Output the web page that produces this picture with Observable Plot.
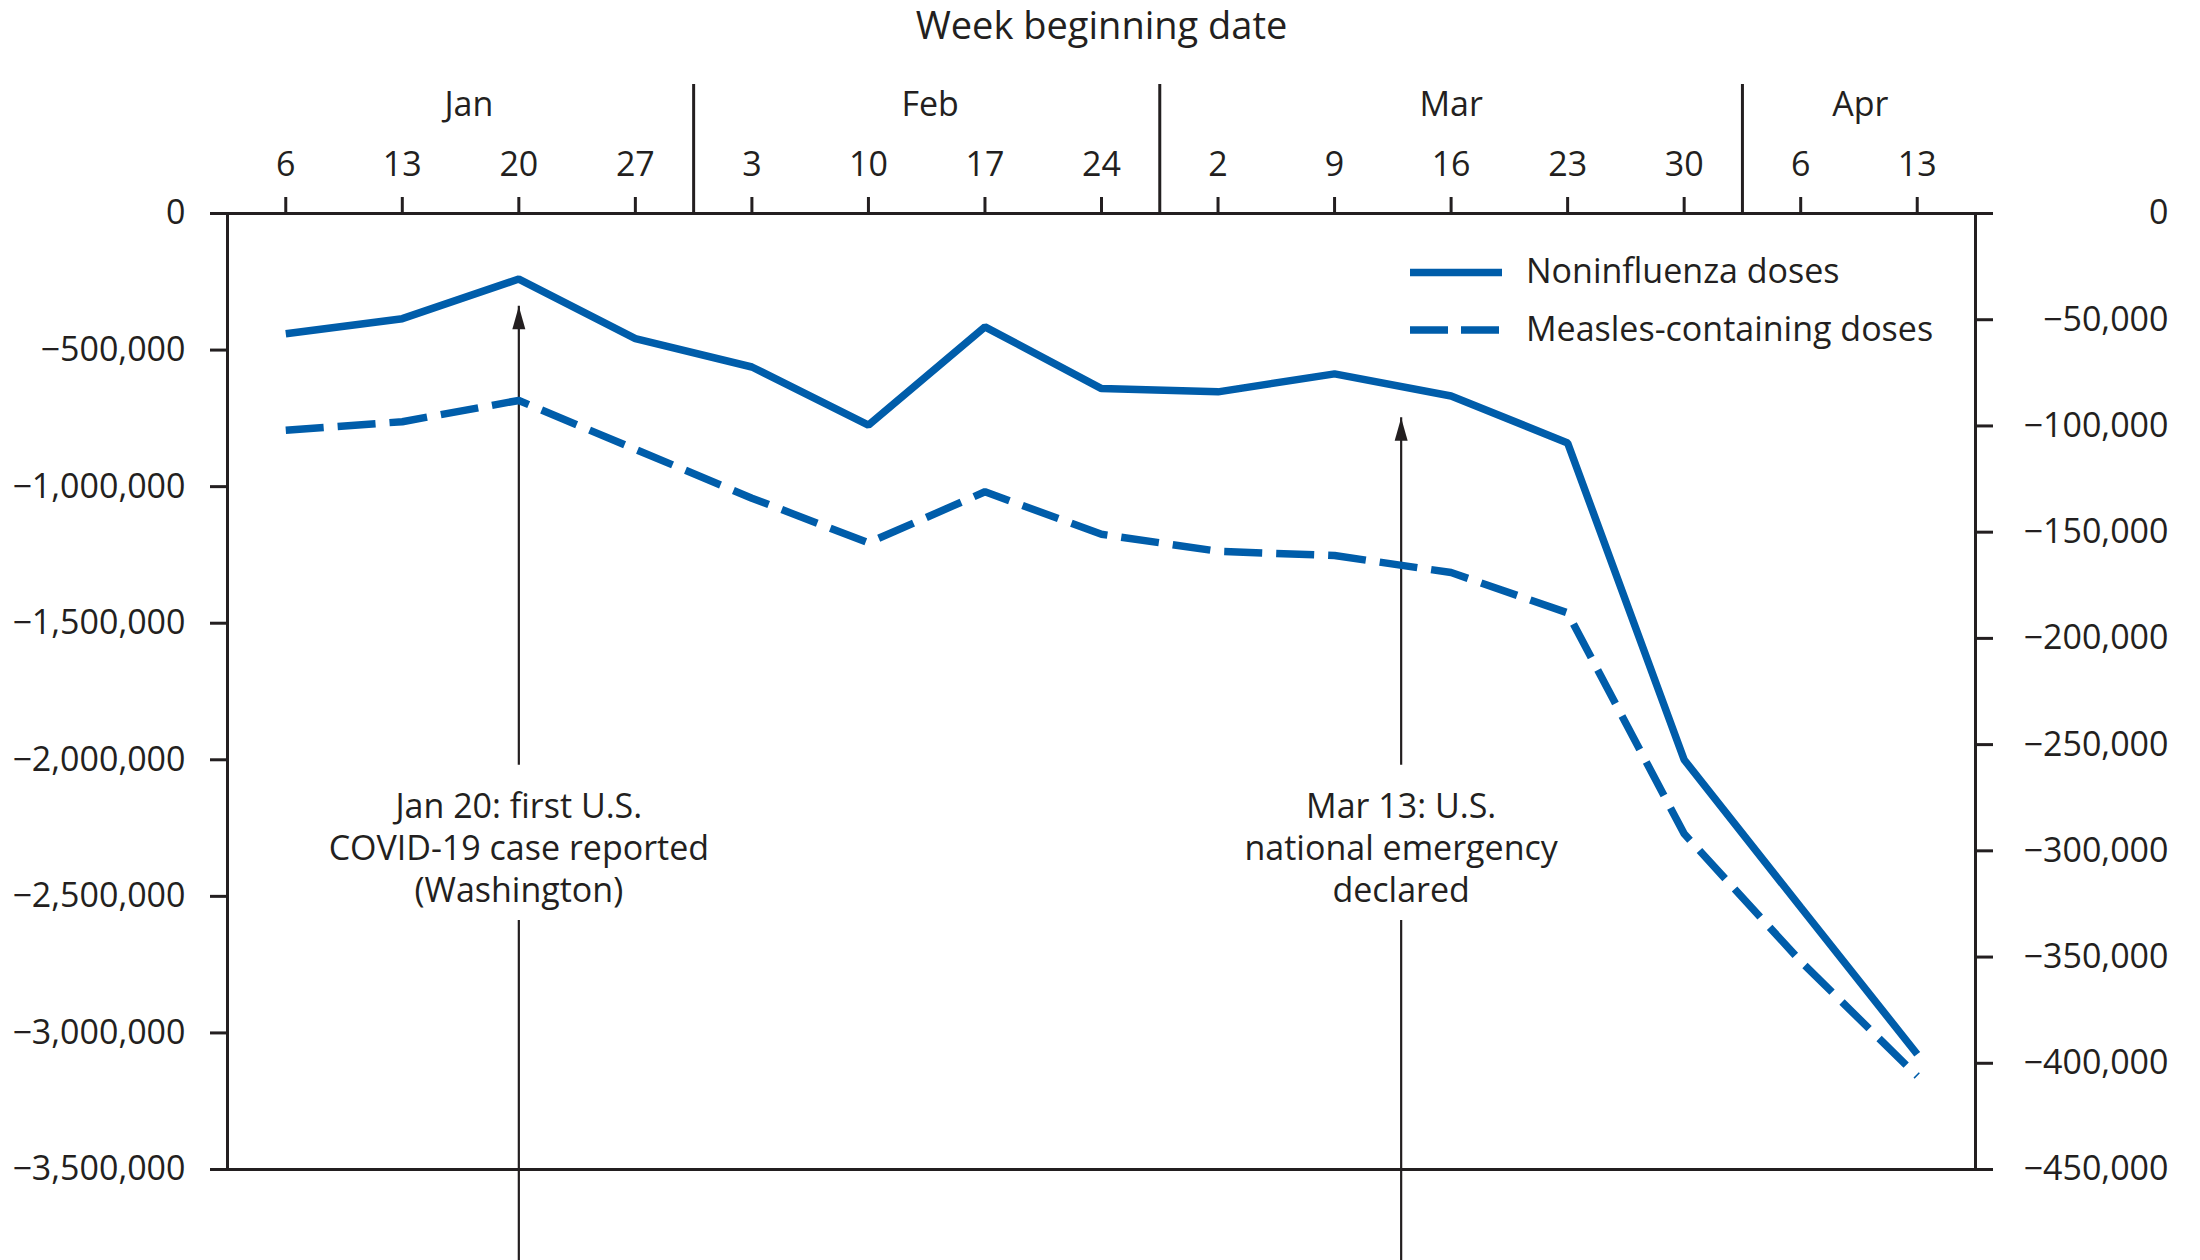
<!DOCTYPE html>
<html>
<head>
<meta charset="utf-8">
<script src="https://cdn.jsdelivr.net/npm/d3@7"></script>
<script src="https://cdn.jsdelivr.net/npm/@observablehq/plot@0.6"></script>
<style>
  html, body { margin: 0; padding: 0; background: #fff; }
</style>
</head>
<body>
<script>
// ---- Data ----
const weeks = ["2020-01-06","2020-01-13","2020-01-20","2020-01-27","2020-02-03","2020-02-10","2020-02-17","2020-02-24",
               "2020-03-02","2020-03-09","2020-03-16","2020-03-23","2020-03-30","2020-04-06","2020-04-13"];
const nonInfluenza = [-440000,-385000,-240000,-458000,-562000,-775000,-415000,-641000,
                      -653000,-587000,-668000,-840000,-2000000,-2540000,-3078000];
const measles = [-102000,-98000,-88000,-111000,-134000,-155000,-131000,-151000,
                 -159000,-161000,-169000,-188000,-292000,-352000,-406000];
const seriesNames = ["Noninfluenza doses","Measles-containing doses"];
const leftTicks = [0,-500000,-1000000,-1500000,-2000000,-2500000,-3000000,-3500000];
const rightTicks = [0,-50000,-100000,-150000,-200000,-250000,-300000,-350000,-400000,-450000];
const monthLabels = ["Jan","Feb","Mar","Apr"];
const monthCenters = ["2020-01-17T00:00Z","2020-02-13T17:00Z","2020-03-16T00:00Z","2020-04-09T14:00Z"];
const monthSeparators = ["2020-01-30T12:00Z","2020-02-27T12:00Z","2020-04-02T12:00Z"];
const annotationDates = ["2020-01-20","2020-03-13"];
const annotationTips = [-340000,-748000];
const annotationText = ["Jan 20: first U.S.\nCOVID-19 case reported\n(Washington)",
                        "Mar 13: U.S.\nnational emergency\ndeclared"];
const annotationGapTop = -2020000, annotationGapBottom = -2588000, annotationTextY = -2317000;

// ---- Build tables ----
const ratio = 3500000 / 450000; // secondary axis mapping
const rows = weeks.map((w, i) => ({date: new Date(w), non: nonInfluenza[i], mea: measles[i]}));
const annotations = annotationDates.map((d, i) => ({
  date: new Date(d), tip: annotationTips[i], label: annotationText[i],
  gapTop: annotationGapTop, gapBottom: annotationGapBottom, textY: annotationTextY
}));
const months = monthLabels.map((m, i) => ({label: m, date: new Date(monthCenters[i])}));

const blue = "#005DAA";
const ink = "#231f20";
const font = "'Open Sans', sans-serif";
const fs = 34;
const fmt = d3.format(",");

const arrowHead = {
  draw(ctx) { ctx.moveTo(0, 0); ctx.lineTo(6.5, 23); ctx.lineTo(-6.5, 23); ctx.closePath(); }
};

const legend = (index, scales, values, dims) => {
  const g = d3.create("svg:g");
  const xr = dims.width - dims.marginRight;
  const dashes = [null, "38,13"];
  seriesNames.forEach((name, i) => {
    const y = dims.marginTop + 59.5 + i * 57.5;
    g.append("line")
      .attr("x1", xr - 565).attr("x2", xr - 473)
      .attr("y1", y).attr("y2", y)
      .attr("stroke", blue).attr("stroke-width", 7.5)
      .attr("stroke-dasharray", dashes[i]);
    g.append("text")
      .attr("x", xr - 449).attr("y", y).attr("dy", "0.32em")
      .attr("text-anchor", "start")
      .attr("fill", ink).attr("font-size", fs).attr("font-family", font)
      .text(name);
  });
  return g.node();
};

const plot = Plot.plot({
  width: 2200,
  height: 1260,
  marginTop: 213,
  marginRight: 225,
  marginBottom: 91,
  marginLeft: 227,
  style: {fontFamily: font, fontSize: fs + "px", color: ink, background: "white", overflow: "visible"},
  x: {type: "utc", domain: [new Date("2020-01-02T12:00Z"), new Date("2020-04-16T12:00Z")]},
  y: {domain: [-3500000, 0]},
  marks: [
    Plot.frame({stroke: ink, strokeWidth: 3}),
    Plot.axisX(rows.map(d => d.date), {
      anchor: "top", tickSize: 17, tickPadding: 21, tickFormat: d3.utcFormat("%-d"),
      label: null, stroke: ink, fill: ink, strokeWidth: 3, fontSize: fs
    }),
    Plot.axisY(leftTicks, {
      anchor: "left", tickSize: 17, tickPadding: 25, tickFormat: d => fmt(d),
      label: null, stroke: ink, fill: ink, strokeWidth: 3, fontSize: fs
    }),
    Plot.axisY(rightTicks.map(v => v * ratio), {
      anchor: "right", tickSize: 17, label: null, stroke: ink, fill: "none", strokeWidth: 3
    }),
    Plot.text(rightTicks, {
      y: v => v * ratio, text: v => fmt(v), frameAnchor: "right", dx: 193,
      textAnchor: "end", fill: ink, fontSize: fs
    }),
    Plot.ruleX(monthSeparators, {x: d => new Date(d), insetTop: -129, insetBottom: 956, stroke: ink, strokeWidth: 3}),
    Plot.text(months, {x: "date", text: "label", frameAnchor: "top", dy: -108, lineAnchor: "middle", fill: ink, fontSize: fs}),
    Plot.text(["Week beginning date"], {frameAnchor: "top", dy: -187, lineAnchor: "middle", fill: ink, fontSize: 38}),
    // annotations
    Plot.ruleX(annotations, {x: "date", y1: "gapTop", y2: "tip", stroke: ink, strokeWidth: 2.2}),
    Plot.ruleX(annotations, {x: "date", y1: "gapBottom", y2: () => -3500000, insetBottom: -91, stroke: ink, strokeWidth: 2.2}),
    Plot.dot(annotations, {x: "date", y: "tip", symbol: arrowHead, fill: ink, stroke: null}),
    Plot.text(annotations, {x: "date", y: "textY", text: "label", lineHeight: 1.24, lineAnchor: "middle", fill: ink, fontSize: fs}),
    // data
    Plot.line(rows, {x: "date", y: "non", stroke: blue, strokeWidth: 7.5, strokeLinejoin: "miter", strokeLinecap: "butt"}),
    Plot.line(rows, {x: "date", y: d => d.mea * ratio, stroke: blue, strokeWidth: 7.5, strokeDasharray: "38,14", strokeLinejoin: "miter", strokeLinecap: "butt"}),
    legend
  ]
});
document.body.appendChild(plot);
</script>
</body>
</html>
